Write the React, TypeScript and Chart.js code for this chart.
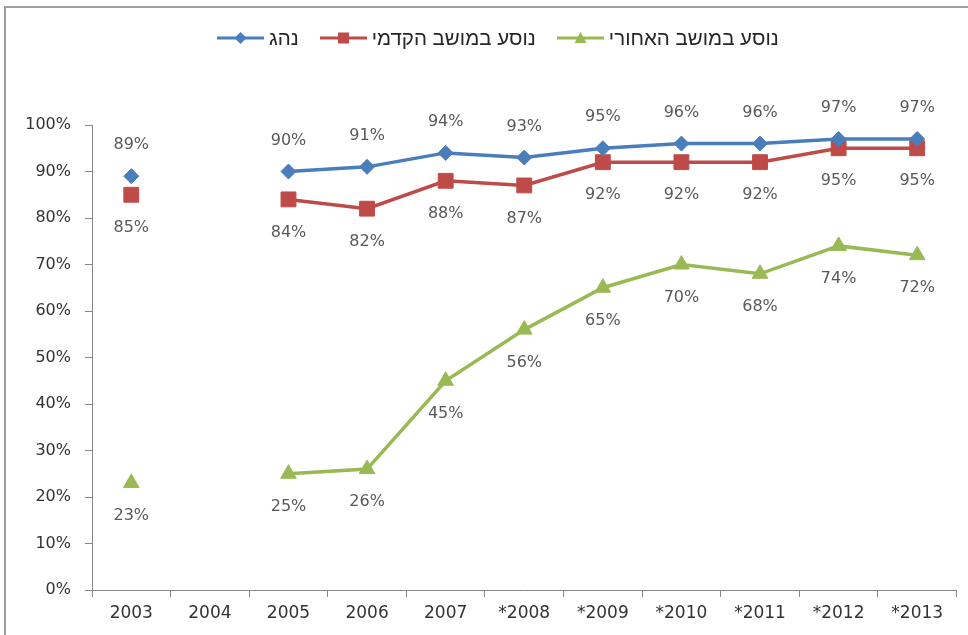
import React, { useEffect, useRef } from "react";
import { Chart, registerables } from "chart.js";

Chart.register(...registerables);

const categories = ["2003", "2004", "2005", "2006", "2007", "*2008", "*2009", "*2010", "*2011", "*2012", "*2013"];
const driver = [89, null, 90, 91, 94, 93, 95, 96, 96, 97, 97];
const frontPassenger = [85, null, 84, 82, 88, 87, 92, 92, 92, 95, 95];
const rearPassenger = [23, null, 25, 26, 45, 56, 65, 70, 68, 74, 72];
const seriesNames = ["נהג", "נוסע במושב הקדמי", "נוסע במושב האחורי"];
const seriesColors = ["#4A7EBB", "#BE4B48", "#98B954"];
const seriesMarkers = ["rectRot", "rect", "triangle"];
const markerRadius = [7.5, 10.5, 9];
const labelOffsets = [-31, 33, 33];

const FONT = "'DejaVu Sans', Verdana, sans-serif";

const framePlugin = {
  id: "frame",
  beforeDraw(chart: any) {
    const ctx = chart.ctx;
    ctx.save();
    ctx.fillStyle = "#ffffff";
    ctx.fillRect(0, 0, chart.width, chart.height);
    ctx.strokeStyle = "#a0a0a0";
    ctx.lineWidth = 2;
    ctx.beginPath();
    ctx.moveTo(5, chart.height);
    ctx.lineTo(5, 7);
    ctx.lineTo(chart.width, 7);
    ctx.stroke();
    ctx.restore();
  },
};

const dataLabelPlugin = {
  id: "dataLabels",
  afterDatasetsDraw(chart: any) {
    const ctx = chart.ctx;
    ctx.save();
    ctx.font = `16px ${FONT}`;
    ctx.fillStyle = "#595959";
    ctx.textAlign = "center";
    ctx.textBaseline = "middle";
    chart.data.datasets.forEach((ds: any, i: number) => {
      const meta = chart.getDatasetMeta(i);
      meta.data.forEach((pt: any, j: number) => {
        const v = ds.data[j];
        if (v === null || v === undefined) return;
        ctx.fillText(`${v}%`, pt.x, pt.y + labelOffsets[i]);
      });
    });
    ctx.restore();
  },
};

function LegendMarker({ index }: { index: number }) {
  const c = seriesColors[index];
  let marker: React.ReactNode = null;
  if (index === 0) marker = <polygon points="23.5,4 29.5,10 23.5,16 17.5,10" fill={c} />;
  if (index === 1) marker = <rect x={18} y={4.5} width={11} height={11} fill={c} />;
  if (index === 2) marker = <polygon points="23.5,4 29.5,15 17.5,15" fill={c} />;
  return (
    <svg width={47} height={20} style={{ display: "block" }}>
      <line x1={0} y1={10} x2={47} y2={10} stroke={c} strokeWidth={3} />
      {marker}
    </svg>
  );
}

export default function App() {
  const canvasRef = useRef<HTMLCanvasElement | null>(null);

  useEffect(() => {
    document.body.style.margin = "0";
    const canvas = canvasRef.current;
    if (!canvas) return;
    const seriesData = [driver, frontPassenger, rearPassenger];
    const chart = new Chart(canvas, {
      type: "line",
      data: {
        labels: categories,
        datasets: seriesData.map((d, i) => ({
          label: seriesNames[i],
          data: d,
          borderColor: seriesColors[i],
          backgroundColor: seriesColors[i],
          borderWidth: 3.5,
          pointStyle: seriesMarkers[i] as any,
          pointRadius: markerRadius[i],
          pointBorderWidth: 1,
          pointBackgroundColor: seriesColors[i],
          pointBorderColor: seriesColors[i],
          spanGaps: false,
          tension: 0,
        })),
      },
      options: {
        animation: false,
        responsive: false,
        devicePixelRatio: 1,
        layout: { padding: { left: 0, top: 125, right: 11, bottom: 0 } },
        plugins: {
          legend: { display: false },
          tooltip: { enabled: false },
        },
        scales: {
          x: {
            type: "category",
            offset: true,
            grid: {
              offset: true,
              drawOnChartArea: false,
              drawTicks: true,
              tickLength: 7,
              color: "#868686",
            },
            border: { color: "#868686", width: 1 },
            ticks: {
              font: { family: FONT, size: 17 },
              color: "#333333",
              padding: 6,
              maxRotation: 0,
              autoSkip: false,
            },
            afterFit: (s: any) => {
              s.height = 45;
            },
          },
          y: {
            min: 0,
            max: 100,
            grid: {
              drawOnChartArea: false,
              drawTicks: true,
              tickLength: 7,
              color: "#868686",
            },
            border: { color: "#868686", width: 1 },
            ticks: {
              stepSize: 10,
              font: { family: FONT, size: 16 },
              color: "#333333",
              padding: 14,
              callback: (v: any) => `${v}%`,
            },
            afterFit: (s: any) => {
              s.width = 92;
            },
          },
        },
      },
      plugins: [framePlugin, dataLabelPlugin],
    });
    return () => chart.destroy();
  }, []);

  return (
    <div style={{ width: 968, height: 635, position: "relative" }}>
      <canvas ref={canvasRef} width={968} height={635} style={{ width: 968, height: 635, display: "block" }} />
      <div
        style={{
          position: "absolute",
          top: 26,
          left: 217,
          height: 24,
          display: "flex",
          alignItems: "center",
          fontFamily: "Arial, 'Liberation Sans', 'DejaVu Sans', sans-serif",
          fontSize: 20.5,
          color: "#262626",
          direction: "ltr",
          whiteSpace: "nowrap",
        }}
      >
        {seriesNames.map((name, i) => (
          <div key={i} style={{ display: "flex", alignItems: "center", marginRight: 21 }}>
            <LegendMarker index={i} />
            <span lang="he" dir="rtl" style={{ marginLeft: 5 }}>
              {name}
            </span>
          </div>
        ))}
      </div>
    </div>
  );
}
